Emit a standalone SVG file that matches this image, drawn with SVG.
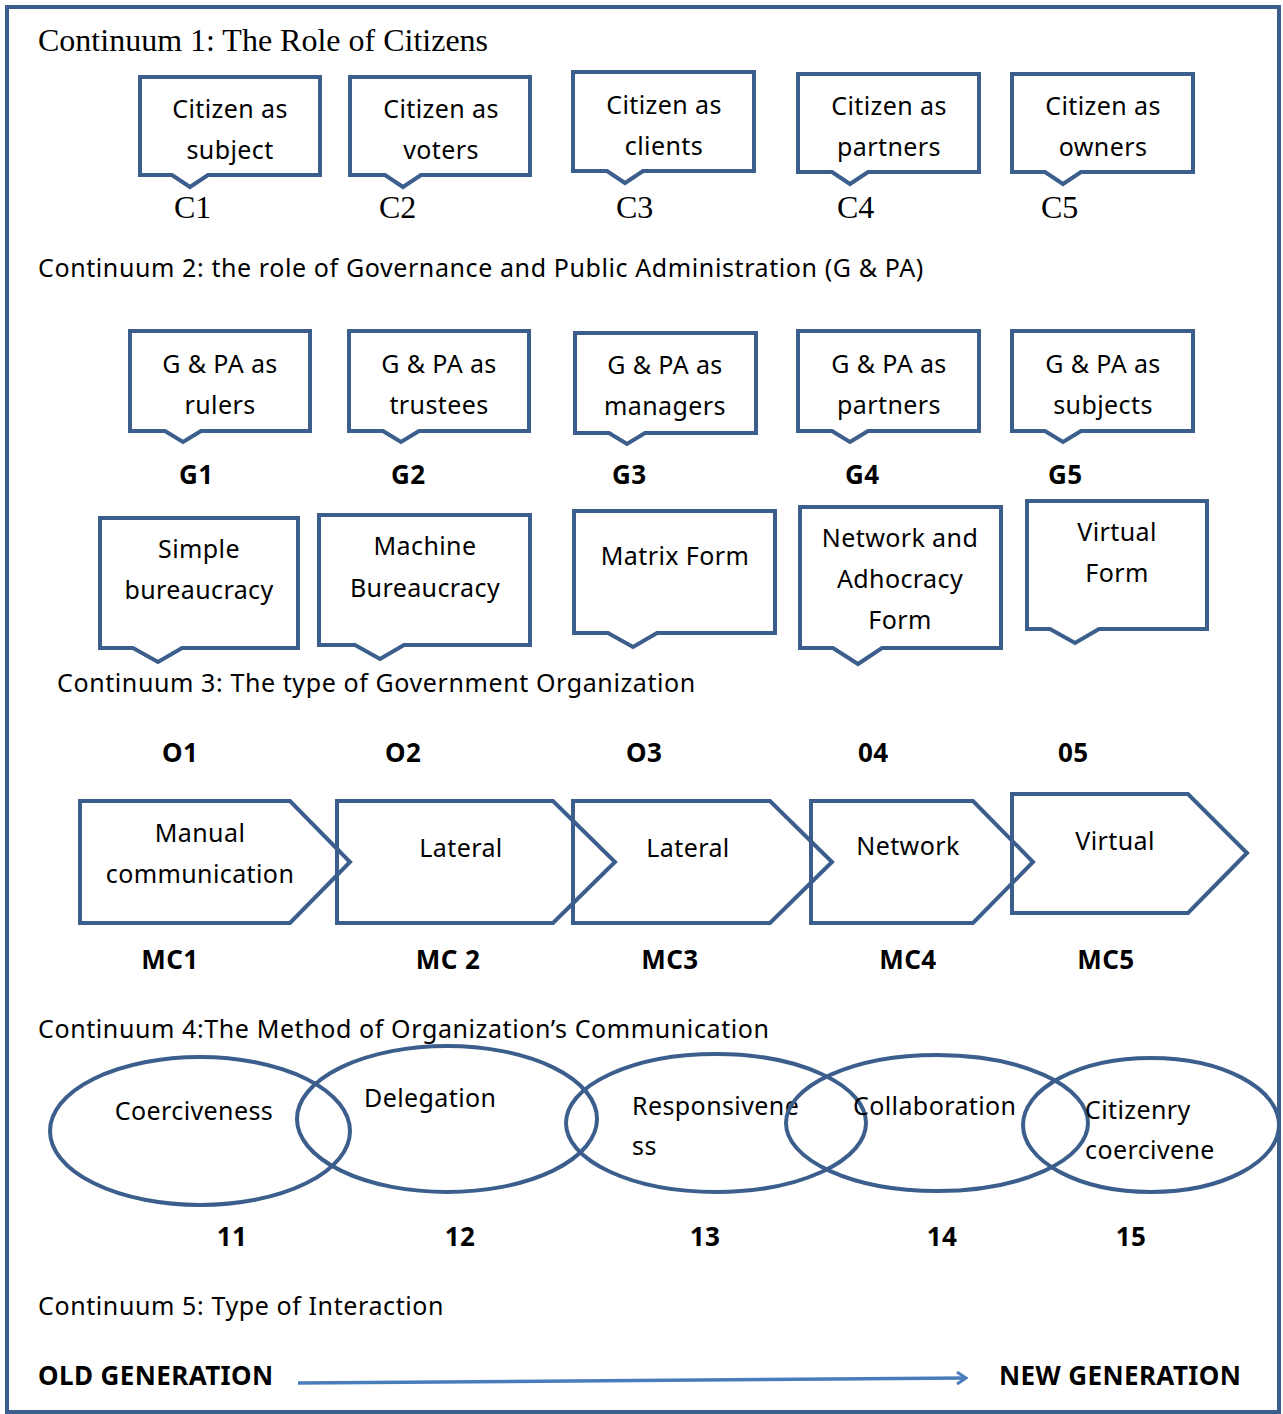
<svg xmlns="http://www.w3.org/2000/svg" width="1283" height="1414" viewBox="0 0 1283 1414">
<defs>
<style>
.frame{fill:#fff;stroke:#3B5E8C;stroke-width:4}
.shape{fill:#fff;stroke:#3B5E8C;stroke-width:4;stroke-linejoin:miter}
.pent{fill:none;stroke:#3B5E8C;stroke-width:4;stroke-linejoin:miter}
.ell{fill:none;stroke:#3B5E8C;stroke-width:4}
.serif{font-family:"Liberation Serif","Times New Roman",serif;font-size:32px;fill:#000}
.t{font-family:"Noto Sans","Open Sans",sans-serif;font-size:25px;letter-spacing:0.4px;fill:#000}
.h{letter-spacing:0.6px}
.c{text-anchor:middle}
.b{font-family:"Noto Sans","Open Sans",sans-serif;font-size:26px;font-weight:bold;letter-spacing:0.4px;fill:#000}
</style>
<marker id="chev" markerWidth="12" markerHeight="14" refX="10" refY="7" orient="auto" markerUnits="userSpaceOnUse">
<path d="M1,1 L10,7 L1,13" fill="none" stroke="#4A7EBB" stroke-width="3"/>
</marker>
</defs>
<rect class="frame" x="7" y="7" width="1272" height="1405"/>

<text class="serif" x="38" y="51">Continuum 1: The Role of Citizens</text>

<g id="C1"><path class="shape" d="M140,77 H320 V175 H208 L190,187 L172,175 H140 Z"/>
<text class="t c" x="230" y="118">Citizen as</text><text class="t c" x="230" y="159">subject</text>
<text class="serif" x="174" y="218">C1</text></g>
<g id="C2"><path class="shape" d="M350,77 H530 V175 H421 L403,187 L385,175 H350 Z"/>
<text class="t c" x="441" y="118">Citizen as</text><text class="t c" x="441" y="159">voters</text>
<text class="serif" x="379" y="218">C2</text></g>
<g id="C3"><path class="shape" d="M573,72 H754 V171 H643 L625,183 L607,171 H573 Z"/>
<text class="t c" x="664" y="114">Citizen as</text><text class="t c" x="664" y="155">clients</text>
<text class="serif" x="616" y="218">C3</text></g>
<g id="C4"><path class="shape" d="M798,74 H979 V172 H868 L850,184 L832,172 H798 Z"/>
<text class="t c" x="889" y="115">Citizen as</text><text class="t c" x="889" y="156">partners</text>
<text class="serif" x="837" y="218">C4</text></g>
<g id="C5"><path class="shape" d="M1012,74 H1193 V172 H1081 L1063,184 L1045,172 H1012 Z"/>
<text class="t c" x="1103" y="115">Citizen as</text><text class="t c" x="1103" y="156">owners</text>
<text class="serif" x="1041" y="218">C5</text></g>

<text class="t h" x="38" y="277">Continuum 2: the role of Governance and Public Administration (G &amp; PA)</text>

<g id="G1"><path class="shape" d="M130,331 H310 V431 H201 L183,442 L165,431 H130 Z"/>
<text class="t c" x="220" y="373">G &amp; PA as</text><text class="t c" x="220" y="414">rulers</text>
<text class="b" x="179" y="484">G1</text></g>
<g id="G2"><path class="shape" d="M349,331 H529 V431 H419 L401,442 L383,431 H349 Z"/>
<text class="t c" x="439" y="373">G &amp; PA as</text><text class="t c" x="439" y="414">trustees</text>
<text class="b" x="391" y="484">G2</text></g>
<g id="G3"><path class="shape" d="M575,333 H756 V433 H645 L627,444 L609,433 H575 Z"/>
<text class="t c" x="665" y="374">G &amp; PA as</text><text class="t c" x="665" y="415">managers</text>
<text class="b" x="612" y="484">G3</text></g>
<g id="G4"><path class="shape" d="M798,331 H979 V431 H868 L850,442 L832,431 H798 Z"/>
<text class="t c" x="889" y="373">G &amp; PA as</text><text class="t c" x="889" y="414">partners</text>
<text class="b" x="845" y="484">G4</text></g>
<g id="G5"><path class="shape" d="M1012,331 H1193 V431 H1081 L1063,442 L1045,431 H1012 Z"/>
<text class="t c" x="1103" y="373">G &amp; PA as</text><text class="t c" x="1103" y="414">subjects</text>
<text class="b" x="1048" y="484">G5</text></g>

<g id="O1"><path class="shape" d="M100,518 H298 V648 H182 L158,662 L133,648 H100 Z"/>
<text class="t c" x="199" y="558">Simple</text><text class="t c" x="199" y="599">bureaucracy</text></g>
<g id="O2"><path class="shape" d="M319,515 H530 V645 H404 L380,659 L355,645 H319 Z"/>
<text class="t c" x="425" y="555">Machine</text><text class="t c" x="425" y="597">Bureaucracy</text></g>
<g id="O3"><path class="shape" d="M574,511 H775 V633 H657 L633,647 L608,633 H574 Z"/>
<text class="t c" x="675" y="565">Matrix Form</text></g>
<g id="O4"><path class="shape" d="M800,507 H1001 V648 H882 L858,664 L833,648 H800 Z"/>
<text class="t c" x="900" y="547">Network and</text><text class="t c" x="900" y="588">Adhocracy</text><text class="t c" x="900" y="629">Form</text></g>
<g id="O5"><path class="shape" d="M1027,501 H1207 V629 H1099 L1075,643 L1050,629 H1027 Z"/>
<text class="t c" x="1117" y="541">Virtual</text><text class="t c" x="1117" y="582">Form</text></g>

<text class="t h" x="57" y="692">Continuum 3: The type of Government Organization</text>

<text class="b" x="162" y="762">O1</text>
<text class="b" x="385" y="762">O2</text>
<text class="b" x="626" y="762">O3</text>
<text class="b" x="858" y="762">04</text>
<text class="b" x="1058" y="762">05</text>

<g id="MC1"><path class="pent" d="M80,801 H290 L350,862 L290,923 H80 Z"/>
<text class="t c" x="200" y="842">Manual</text><text class="t c" x="200" y="883">communication</text>
<text class="b c" x="170" y="969">MC1</text></g>
<g id="MC2"><path class="pent" d="M337,801 H553 L615,862 L553,923 H337 Z"/>
<text class="t c" x="461" y="857">Lateral</text>
<text class="b c" x="448" y="969">MC 2</text></g>
<g id="MC3"><path class="pent" d="M573,801 H770 L832,862 L770,923 H573 Z"/>
<text class="t c" x="688" y="857">Lateral</text>
<text class="b c" x="670" y="969">MC3</text></g>
<g id="MC4"><path class="pent" d="M811,801 H973 L1033,862 L973,923 H811 Z"/>
<text class="t c" x="908" y="855">Network</text>
<text class="b c" x="908" y="969">MC4</text></g>
<g id="MC5"><path class="pent" d="M1012,794 H1188 L1247,853 L1188,913 H1012 Z"/>
<text class="t c" x="1115" y="850">Virtual</text>
<text class="b c" x="1106" y="969">MC5</text></g>

<text class="t h" x="38" y="1038">Continuum 4:The Method of Organization’s Communication</text>

<g id="E1"><ellipse class="ell" cx="200" cy="1131" rx="150" ry="74"/>
<text class="t c" x="194" y="1120">Coerciveness</text>
<text class="b c" x="232" y="1246">11</text></g>
<g id="E2"><ellipse class="ell" cx="447" cy="1119" rx="150" ry="73"/>
<text class="t" x="364" y="1107">Delegation</text>
<text class="b c" x="460" y="1246">12</text></g>
<g id="E3"><ellipse class="ell" cx="716" cy="1123" rx="150" ry="69"/>
<text class="t" x="632" y="1115">Responsivene</text><text class="t" x="632" y="1155">ss</text>
<text class="b c" x="705" y="1246">13</text></g>
<g id="E4"><ellipse class="ell" cx="937" cy="1123" rx="151" ry="68"/>
<text class="t" x="853" y="1115">Collaboration</text>
<text class="b c" x="942" y="1246">14</text></g>
<g id="E5"><ellipse class="ell" cx="1151" cy="1125" rx="128" ry="67"/>
<text class="t" x="1085" y="1119">Citizenry</text><text class="t" x="1085" y="1159">coercivene</text>
<text class="b c" x="1131" y="1246">15</text></g>

<text class="t h" x="38" y="1315">Continuum 5: Type of Interaction</text>

<text class="b" x="38" y="1385">OLD GENERATION</text>
<text class="b" x="999" y="1385">NEW GENERATION</text>
<g id="connectors">
<line x1="298" y1="1383" x2="966" y2="1378" stroke="#4A7EBB" stroke-width="3.5" marker-end="url(#chev)"/>
</g>
</svg>
